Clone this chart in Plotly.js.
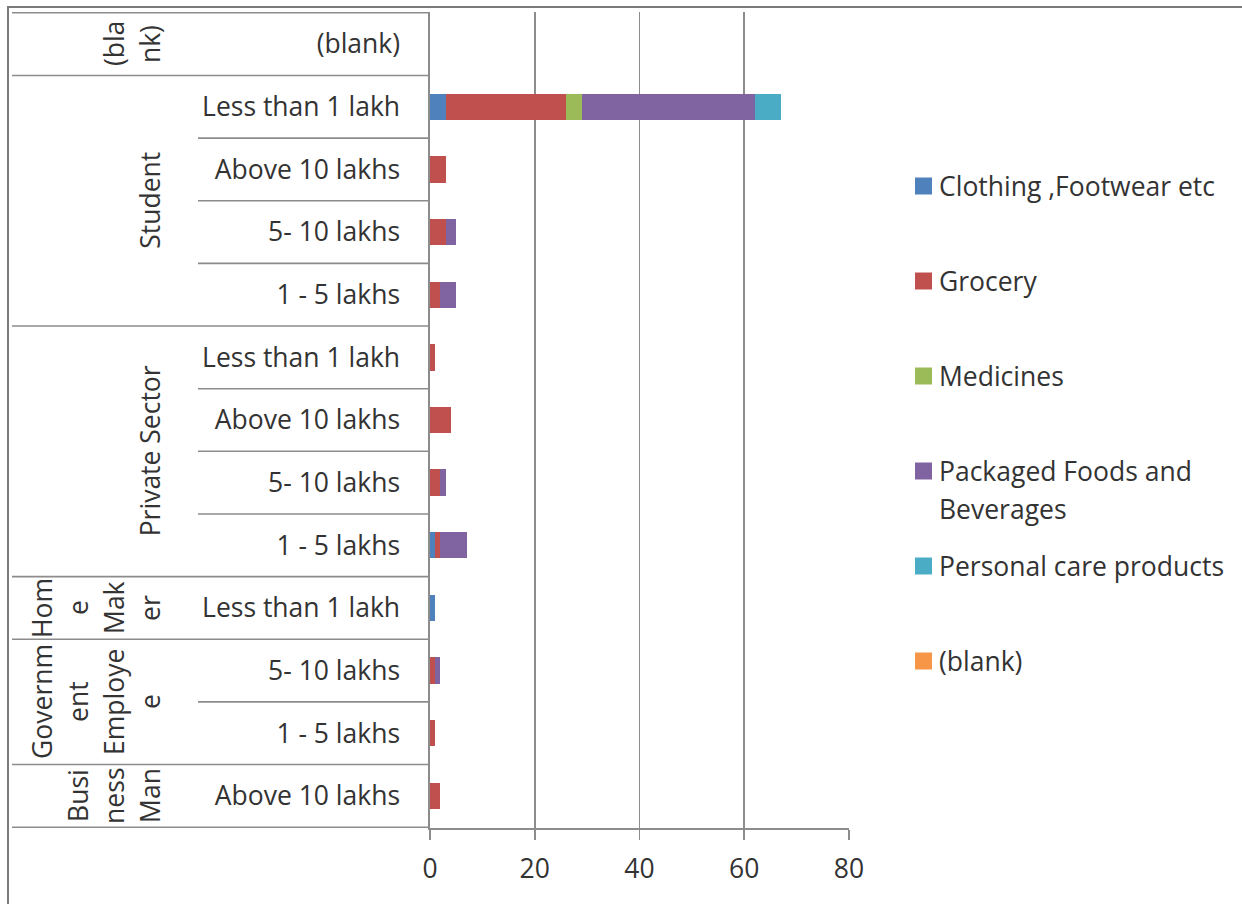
<!DOCTYPE html>
<html>
<head>
<meta charset="utf-8">
<script src="https://cdn.plot.ly/plotly-3.0.1.min.js"></script>
<style>html,body{margin:0;padding:0;background:#fff;}#chart{width:1242px;height:904px;}</style>
</head>
<body>
<div id="chart"></div>
<script>
// ---- data (rows listed top to bottom as in the chart) ----
const occupation = ["(blank)", "Student", "Student", "Student", "Student",
  "Private Sector", "Private Sector", "Private Sector", "Private Sector",
  "Home Maker", "Government Employee", "Government Employee", "Business Man"];
const income = ["(blank)", "Less than 1 lakh", "Above 10 lakhs", "5- 10 lakhs", "1 - 5 lakhs",
  "Less than 1 lakh", "Above 10 lakhs", "5- 10 lakhs", "1 - 5 lakhs",
  "Less than 1 lakh", "5- 10 lakhs", "1 - 5 lakhs", "Above 10 lakhs"];
const seriesNames = ["Clothing ,Footwear etc", "Grocery", "Medicines",
  "Packaged Foods and Beverages", "Personal care products", "(blank)"];
const clothing = [0, 3, 0, 0, 0, 0, 0, 0, 1, 1, 0, 0, 0];
const grocery  = [0, 23, 3, 3, 2, 1, 4, 2, 1, 0, 1, 1, 2];
const medicines = [0, 3, 0, 0, 0, 0, 0, 0, 0, 0, 0, 0, 0];
const packaged = [0, 33, 0, 2, 3, 0, 0, 1, 5, 0, 1, 0, 0];
const personal = [0, 5, 0, 0, 0, 0, 0, 0, 0, 0, 0, 0, 0];
const blankSeries = [0, 0, 0, 0, 0, 0, 0, 0, 0, 0, 0, 0, 0];
const xTicks = [0, 20, 40, 60, 80];
// wrapped group labels as they appear in the narrow cells
const groupLines = {
  "(blank)": ["(bla", "nk)"],
  "Student": ["Student"],
  "Private Sector": ["Private Sector"],
  "Home Maker": ["Hom", "e", "Mak", "er"],
  "Government Employee": ["Governm", "ent", "Employe", "e"],
  "Business Man": ["Busi", "ness", "Man"]
};
const legendLines = [["Clothing ,Footwear etc"], ["Grocery"], ["Medicines"],
  ["Packaged Foods and", "Beverages"], ["Personal care products"], ["(blank)"]];

// ---- styling ----
const colors = ["#4F81BD", "#C0504D", "#9BBB59", "#8064A2", "#4BACC6", "#F79646"];
const FONT = "Open Sans, sans-serif";
const FS = 26.5;
const TXT = "#333333";
const LINE = "#8c8c8c";
const W = 1242, H = 904;
const L = 430, R = 849, T = 12, B = 828;
const px2x = p => (p - L) / (R - L);
const px2y = p => (B - p) / (B - T);

const cats = occupation.map((o, i) => o + " | " + income[i]);
const values = [clothing, grocery, medicines, packaged, personal, blankSeries];

const traces = values.map((v, k) => ({
  type: "bar", orientation: "h", name: seriesNames[k],
  y: cats, x: v, marker: {color: colors[k], line: {width: 0}},
  showlegend: false, hoverinfo: "x+name"
}));

const shapes = [];
const annotations = [];
// outer frame
shapes.push({type: "rect", xref: "paper", yref: "paper",
  x0: px2x(8), x1: px2x(1250), y0: px2y(7), y1: px2y(912),
  line: {color: "#7a7a7a", width: 2}, fillcolor: "rgba(0,0,0,0)"});
// table lines
const n = cats.length;
for (let i = 0; i <= n; i++) {
  const full = (i === 0 || i === n || occupation[i] !== occupation[i - 1]);
  shapes.push({type: "line", xref: "paper", yref: "y",
    x0: px2x(full ? 12 : 198), x1: 0, y0: i - 0.5, y1: i - 0.5,
    line: {color: LINE, width: 1.6}});
}
// group labels
const seen = {};
occupation.forEach((o, i) => { (seen[o] = seen[o] || []).push(i); });
Object.keys(seen).forEach(o => {
  const idx = seen[o];
  const yc = (idx[0] + idx[idx.length - 1]) / 2;
  const lines = groupLines[o];
  lines.forEach((ln, j) => {
    const xc = 150 - 36 * (lines.length - 1 - j);
    annotations.push({xref: "paper", yref: "y", x: px2x(xc), y: yc,
      text: ln, showarrow: false, textangle: -90, xanchor: "center", yanchor: "middle",
      font: {family: FONT, size: FS, color: TXT}});
  });
});
// custom legend
legendLines.forEach((lines, k) => {
  const yc = 186 + 95 * k;
  shapes.push({type: "rect", xref: "paper", yref: "paper",
    x0: px2x(915), x1: px2x(932), y0: px2y(yc + 8.5), y1: px2y(yc - 8.5),
    line: {width: 0}, fillcolor: colors[k]});
  lines.forEach((ln, j) => {
    annotations.push({xref: "paper", yref: "paper", x: px2x(937), y: px2y(yc + 38 * j),
      text: ln, showarrow: false, xanchor: "left", yanchor: "middle",
      font: {family: FONT, size: FS, color: TXT}});
  });
});

const layout = {
  width: W, height: H,
  margin: {l: L, r: W - R, t: T, b: H - B, pad: 0},
  paper_bgcolor: "#fff", plot_bgcolor: "#fff",
  barmode: "stack", bargap: 0.58,
  showlegend: false,
  font: {family: FONT, size: FS, color: TXT},
  xaxis: {range: [0, 80], tickvals: xTicks, ticktext: xTicks.map(String),
    showgrid: true, gridcolor: LINE, gridwidth: 1.6,
    showline: true, linecolor: LINE, linewidth: 1.6,
    ticks: "outside", ticklen: 10, tickcolor: LINE, tickwidth: 1.6,
    ticklabelstandoff: 7, zeroline: false, fixedrange: true,
    tickfont: {family: FONT, size: FS, color: TXT}},
  yaxis: {type: "category", categoryarray: cats, categoryorder: "array",
    autorange: "reversed", tickvals: cats, ticktext: income,
    showgrid: false, showline: true, linecolor: LINE, linewidth: 1.6,
    ticks: "", ticklabelstandoff: 23, zeroline: false, fixedrange: true,
    tickfont: {family: FONT, size: FS, color: TXT}},
  shapes: shapes, annotations: annotations
};

Plotly.newPlot("chart", traces, layout, {displayModeBar: false, staticPlot: true});
</script>
</body>
</html>
